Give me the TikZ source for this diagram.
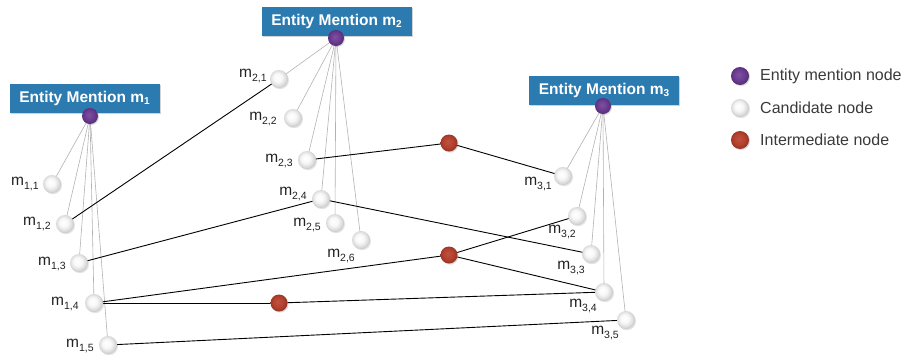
\documentclass[tikz,border=0pt]{standalone}
\usepackage{fontspec}
\setmainfont{Liberation Sans}
\usetikzlibrary{shadows}
\definecolor{titleblue}{HTML}{2B7BB0}
\definecolor{mentionpurple}{HTML}{6B3A92}
\definecolor{interred}{HTML}{B5402D}
\definecolor{labelgray}{HTML}{222222}
\definecolor{legendtext}{HTML}{3A3A3A}
% soft sphere shadings, highlight towards the upper left
\pgfdeclareradialshading{candshade}{\pgfpoint{-5bp}{5bp}}{%
  color(0bp)=(white); color(12bp)=(white!97!black); color(22bp)=(gray!28);
  color(27bp)=(gray!45); color(50bp)=(gray!45)}
\pgfdeclareradialshading{mentionshade}{\pgfpoint{-4bp}{4bp}}{%
  color(0bp)=(mentionpurple!88!white); color(16bp)=(mentionpurple);
  color(26bp)=(mentionpurple!80!black); color(50bp)=(mentionpurple!80!black)}
\pgfdeclareradialshading{intershade}{\pgfpoint{-4bp}{4bp}}{%
  color(0bp)=(interred!90!white); color(16bp)=(interred);
  color(26bp)=(interred!82!black); color(50bp)=(interred!82!black)}
\newcommand\subidx[1]{\raisebox{-0.45ex}{\fontsize{10.5}{10.5}\selectfont #1}}
\newcommand\titlesub[1]{\raisebox{-0.35ex}{\fontsize{10}{10}\selectfont #1}}
\tikzset{
  titlebox/.style={rectangle, fill=titleblue, text=white, font=\fontsize{15.5}{15.5}\selectfont\bfseries,
    minimum width=150pt, minimum height=29pt, inner sep=0pt,
    drop shadow={opacity=0.35, shadow xshift=1.2pt, shadow yshift=-1.2pt}},
  mention/.style={circle, minimum size=16pt, inner sep=0pt, shading=mentionshade,
    drop shadow={opacity=0.3, shadow xshift=1pt, shadow yshift=-1pt}},
  cand/.style={circle, minimum size=18pt, inner sep=0pt, shading=candshade,
    drop shadow={opacity=0.22, shadow xshift=1pt, shadow yshift=-1.2pt}},
  inter/.style={circle, minimum size=17pt, inner sep=0pt, shading=intershade,
    drop shadow={opacity=0.3, shadow xshift=1pt, shadow yshift=-1pt}},
  lbl/.style={text=labelgray, font=\fontsize{15.5}{15.5}\selectfont, inner sep=0pt},
  legtext/.style={text=legendtext, font=\fontsize{16}{16}\selectfont, anchor=west, inner sep=0pt},
  spoke/.style={draw=gray!60, line width=0.6pt},
  link/.style={draw=black, line width=0.9pt},
}
\begin{document}
\begin{tikzpicture}[x=1pt, y=-1pt]
\useasboundingbox (0,0) rectangle (901,359);

% mention titles
\node[titlebox] (t1) at (84.5,98) {Entity Mention m\titlesub{1}};
\node[titlebox] (t2) at (336.5,21) {Entity Mention m\titlesub{2}};
\node[titlebox] (t3) at (604,90) {Entity Mention m\titlesub{3}};

% candidate positions
\coordinate (p11) at (52,184);
\coordinate (p12) at (65,224);
\coordinate (p13) at (79,263);
\coordinate (p14) at (94,303);
\coordinate (p15) at (108,345);
\coordinate (p21) at (279,79);
\coordinate (p22) at (293,118);
\coordinate (p23) at (307,160);
\coordinate (p24) at (321,199);
\coordinate (p25) at (335,223);
\coordinate (p26) at (361,240);
\coordinate (p31) at (563,176);
\coordinate (p32) at (577,216);
\coordinate (p33) at (591,254);
\coordinate (p34) at (604,292);
\coordinate (p35) at (626,320);
\coordinate (e1) at (90,116);
\coordinate (e2) at (336,38);
\coordinate (e3) at (603,106);

% spokes from each mention to its candidates
\foreach \c in {p11,p12,p13,p14,p15} \draw[spoke] (e1) -- (\c);
\foreach \c in {p21,p22,p23,p24,p25,p26} \draw[spoke] (e2) -- (\c);
\foreach \c in {p31,p32,p33,p34,p35} \draw[spoke] (e3) -- (\c);

% intermediate node positions
\coordinate (q1) at (449,143);
\coordinate (q2) at (449,255);
\coordinate (q3) at (279,303);

% links between candidates
\draw[link] (p12) -- (p21);
\draw[link] (p13) -- (p24);
\draw[link] (p14) -- (q2);
\draw[link] (p14) -- (q3);
\draw[link] (q3) -- (p34);
\draw[link] (p15) -- (p35);
\draw[link] (p23) -- (q1);
\draw[link] (q1) -- (p31);
\draw[link] (p24) -- (p33);
\draw[link] (q2) -- (p32);
\draw[link] (q2) -- (p34);

% nodes
\node[mention] (m1) at (e1) {};
\node[mention] (m2) at (e2) {};
\node[mention] (m3) at (e3) {};
\foreach \c in {p11,p12,p13,p14,p15,p21,p22,p23,p24,p25,p26,p31,p32,p33,p34,p35}
  \node[cand] (n\c) at (\c) {};
\node[inter] (i1) at (q1) {};
\node[inter] (i2) at (q2) {};
\node[inter] (i3) at (q3) {};

% candidate labels
\node[lbl] (l11) at (25,184) {m\subidx{1,1}};
\node[lbl] (l12) at (37,224) {m\subidx{1,2}};
\node[lbl] (l13) at (52,264) {m\subidx{1,3}};
\node[lbl] (l14) at (65,304) {m\subidx{1,4}};
\node[lbl] (l15) at (80,346) {m\subidx{1,5}};
\node[lbl] (l21) at (253,76) {m\subidx{2,1}};
\node[lbl] (l22) at (263,119) {m\subidx{2,2}};
\node[lbl] (l23) at (279,161) {m\subidx{2,3}};
\node[lbl] (l24) at (293,194) {m\subidx{2,4}};
\node[lbl] (l25) at (307,225) {m\subidx{2,5}};
\node[lbl] (l26) at (341,256) {m\subidx{2,6}};
\node[lbl] (l31) at (538,184) {m\subidx{3,1}};
\node[lbl] (l32) at (562,232) {m\subidx{3,2}};
\node[lbl] (l33) at (571,268) {m\subidx{3,3}};
\node[lbl] (l34) at (583,306) {m\subidx{3,4}};
\node[lbl] (l35) at (605,333) {m\subidx{3,5}};

% legend
\node[mention, minimum size=18pt] (k1) at (740,76) {};
\node[cand] (k2) at (740,108) {};
\node[inter, minimum size=18pt] (k3) at (740,140) {};
\node[legtext] (kt1) at (760,76) {Entity mention node};
\node[legtext] (kt2) at (760,108) {Candidate node};
\node[legtext] (kt3) at (760,140) {Intermediate node};
\end{tikzpicture}
\end{document}
